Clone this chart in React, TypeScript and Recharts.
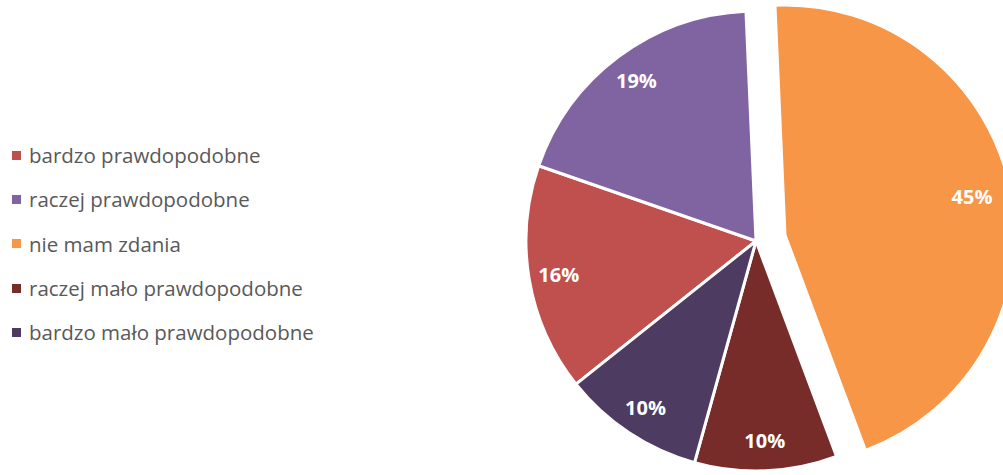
import { PieChart, Pie, Cell, Legend } from "recharts";

const categories = [
  "bardzo prawdopodobne",
  "raczej prawdopodobne",
  "nie mam zdania",
  "raczej mało prawdopodobne",
  "bardzo mało prawdopodobne",
];
const shares = [16, 19, 45, 10, 10];
const colors = ["#C0504D", "#8064A2", "#F79646", "#772C2A", "#4D3B62"];
const explodedIndex = 2;

const data = categories.map((name, i) => ({ name, value: shares[i] }));

const RAD = Math.PI / 180;
const FONT = "'Open Sans', sans-serif";
const START = 218.5;

const makeLabel = (show: (i: number) => boolean, k: number) => (props: any) => {
  const { cx, cy, midAngle, outerRadius, index, value } = props;
  if (!show(index)) return null;
  const r = outerRadius * k;
  const x = cx + r * Math.cos(-midAngle * RAD);
  const y = cy + r * Math.sin(-midAngle * RAD);
  return (
    <text
      x={x}
      y={y}
      fill="#fff"
      textAnchor="middle"
      dominantBaseline="central"
      fontFamily={FONT}
      fontWeight={700}
      fontSize={20}
    >
      {value}%
    </text>
  );
};

function LegendList() {
  return (
    <div style={{ fontFamily: FONT, fontSize: 20.5, color: "#595959" }}>
      {data.map((d, i) => (
        <div key={d.name} style={{ display: "flex", alignItems: "center", height: 44.3 }}>
          <span
            style={{
              width: 9,
              height: 9,
              background: colors[i],
              marginRight: 8,
              display: "inline-block",
            }}
          />
          <span>{d.name}</span>
        </div>
      ))}
    </div>
  );
}

export default function App() {
  return (
    <div style={{ position: "absolute", left: 0, top: 0, width: 1003, height: 475, background: "#fff" }}>
      <PieChart width={1003} height={475}>
        <Pie
          data={data}
          dataKey="value"
          cx={751}
          cy={236}
          outerRadius={230}
          startAngle={START}
          endAngle={START - 360}
          stroke="#fff"
          strokeWidth={3}
          labelLine={false}
          label={makeLabel((i) => i !== explodedIndex, 0.87)}
          isAnimationActive={false}
        >
          {data.map((d, i) => (
            <Cell
              key={d.name}
              fill={i === explodedIndex ? "transparent" : colors[i]}
              stroke={i === explodedIndex ? "none" : "#fff"}
            />
          ))}
        </Pie>
        <Pie
          data={data}
          dataKey="value"
          cx={780}
          cy={230}
          outerRadius={230}
          startAngle={START}
          endAngle={START - 360}
          strokeWidth={3}
          labelLine={false}
          label={makeLabel((i) => i === explodedIndex, 0.83)}
          isAnimationActive={false}
          legendType="none"
        >
          {data.map((d, i) => (
            <Cell
              key={d.name}
              fill={i === explodedIndex ? colors[i] : "transparent"}
              stroke={i === explodedIndex ? "#fff" : "none"}
            />
          ))}
        </Pie>
        <Legend
          content={() => <LegendList />}
          wrapperStyle={{ position: "absolute", left: 12, top: 133, width: 380 }}
        />
      </PieChart>
    </div>
  );
}
